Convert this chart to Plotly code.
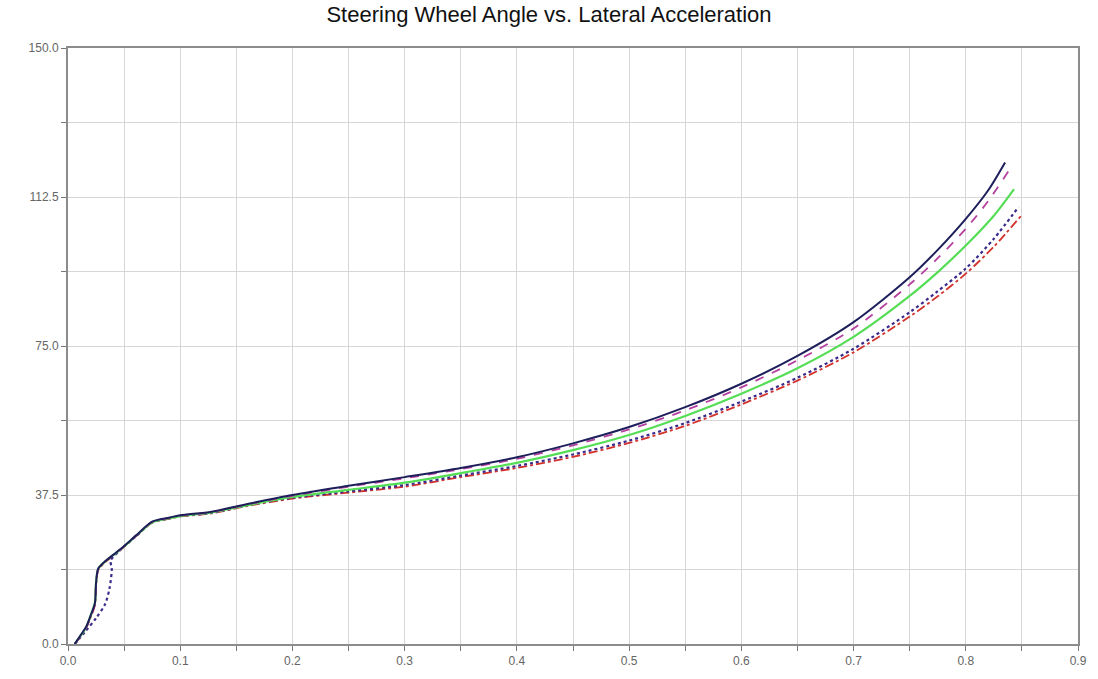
import plotly.graph_objects as go

title = "Steering Wheel Angle vs. Lateral Acceleration"

# Series 1: dark navy solid
x_navy = [0.006, 0.012, 0.0165, 0.02, 0.024, 0.025, 0.027, 0.034, 0.046, 0.061, 0.075, 0.09, 0.1, 0.128, 0.161,
          0.2, 0.25, 0.3, 0.35, 0.4, 0.45, 0.5, 0.55, 0.6, 0.65, 0.7, 0.75, 0.775, 0.8, 0.82, 0.835]
y_navy = [0, 2.5, 4.5, 7, 10.3, 15.3, 19, 21, 23.7, 27.4, 30.8, 31.8, 32.4, 33.3, 35.3,
          37.5, 39.8, 42, 44.3, 47, 50.5, 54.6, 59.6, 65.5, 72.5, 81, 92.3, 99.2, 107, 114.2, 121.2]

# Series 2: magenta dashed
x_mag = [0.006, 0.012, 0.0165, 0.02, 0.024, 0.025, 0.027, 0.034, 0.046, 0.061, 0.075, 0.09, 0.1, 0.128, 0.161,
         0.2, 0.25, 0.3, 0.35, 0.4, 0.45, 0.5, 0.55, 0.6, 0.65, 0.7, 0.75, 0.775, 0.8, 0.82, 0.838]
y_mag = [0, 2.3, 4.3, 6.8, 10, 15, 18.8, 21, 23.6, 27.3, 30.7, 31.7, 32.3, 33.2, 35.2,
         37.3, 39.6, 41.7, 44, 46.6, 50, 54, 58.8, 64.6, 71.4, 79.4, 90.5, 97.1, 104.5, 111.5, 119]

# Series 3: green solid
x_grn = [0.006, 0.012, 0.0165, 0.02, 0.024, 0.025, 0.027, 0.034, 0.046, 0.061, 0.075, 0.09, 0.1, 0.128, 0.161,
         0.2, 0.25, 0.3, 0.35, 0.4, 0.45, 0.5, 0.55, 0.6, 0.65, 0.7, 0.75, 0.775, 0.8, 0.825, 0.843]
y_grn = [0, 2.4, 4.4, 7, 10.5, 15.5, 19, 21, 23.6, 27.3, 30.6, 31.6, 32.2, 33.1, 35,
         37, 38.8, 40.6, 43, 45.6, 48.8, 52.6, 57.4, 63, 69.4, 77.3, 87.6, 93.6, 100.3, 107.8, 114.5]

# Series 4: purple dotted
x_dot = [0.006, 0.015, 0.025, 0.033, 0.037, 0.039, 0.038, 0.046, 0.061, 0.075, 0.09, 0.1, 0.128, 0.161,
         0.2, 0.25, 0.3, 0.35, 0.4, 0.45, 0.5, 0.55, 0.6, 0.65, 0.7, 0.75, 0.775, 0.8, 0.825, 0.847]
y_dot = [0, 3, 6.5, 10, 14, 19, 21, 23.5, 27.2, 30.6, 31.6, 32.2, 33, 35,
         36.8, 38.4, 40, 42.4, 44.8, 47.7, 51.2, 55.6, 61, 67, 74.3, 83.5, 88.8, 94.5, 102, 110]

# Series 5: red dash-dot
x_red = [0.006, 0.012, 0.0165, 0.02, 0.024, 0.025, 0.027, 0.034, 0.046, 0.061, 0.075, 0.09, 0.1, 0.128, 0.161,
         0.2, 0.25, 0.3, 0.35, 0.4, 0.45, 0.5, 0.55, 0.6, 0.65, 0.7, 0.75, 0.775, 0.8, 0.825, 0.85]
y_red = [0, 2.2, 4.2, 6.6, 9.8, 14.8, 18.6, 20.8, 23.5, 27.2, 30.5, 31.5, 32.1, 32.9, 34.8,
         36.6, 38.1, 39.6, 42, 44.3, 47.1, 50.6, 54.9, 60.3, 66.3, 73.4, 82.4, 87.5, 93.2, 100, 108]

x_ticks = [0.0, 0.1, 0.2, 0.3, 0.4, 0.5, 0.6, 0.7, 0.8, 0.9]
y_ticks = [0.0, 37.5, 75.0, 112.5, 150.0]

series = [
    (x_red, y_red, "#d3322c", "dashdot", 1.8),
    (x_dot, y_dot, "#3a2a8c", "dot", 2.2),
    (x_grn, y_grn, "#55de55", "solid", 2.2),
    (x_mag, y_mag, "#b4409f", "dash", 1.8),
    (x_navy, y_navy, "#1d1e5a", "solid", 2.0),
]

fig = go.Figure()
for xs, ys, col, dash, w in series:
    fig.add_trace(go.Scatter(x=xs, y=ys, mode="lines",
                             line=dict(color=col, dash=dash, width=w, shape="spline", smoothing=0.8),
                             showlegend=False, hoverinfo="skip"))

axis_common = dict(
    showline=True, linecolor="#8c8c8c", linewidth=2, mirror=True,
    showgrid=True, gridcolor="#d6d6d6", gridwidth=1,
    ticks="outside", ticklen=5, tickcolor="#777", tickwidth=1,
    tickfont=dict(family="Liberation Sans Narrow, Liberation Sans, Arial", size=12, color="#666"),
    zeroline=False,
)

fig.update_layout(
    width=1098, height=679,
    margin=dict(l=68, r=11, t=48, b=31),
    paper_bgcolor="white", plot_bgcolor="white",
    title=dict(text=title, x=0.5, xanchor="center", y=0.979, yanchor="middle",
               font=dict(family="Liberation Sans, Arial", size=22, color="#111")),
    xaxis=dict(range=[0, 0.9], tickvals=x_ticks, ticktext=[f"{v:.1f}" for v in x_ticks],
               minor=dict(dtick=0.05, tick0=0, showgrid=True, gridcolor="#d6d6d6", ticks="outside", ticklen=5, tickcolor="#777"),
               **axis_common),
    yaxis=dict(range=[0, 150], tickvals=y_ticks, ticktext=[f"{v:.1f}" for v in y_ticks],
               minor=dict(dtick=18.75, tick0=0, showgrid=True, gridcolor="#d6d6d6", ticks="outside", ticklen=5, tickcolor="#777"),
               **axis_common),
)

fig.write_html("out.html")
